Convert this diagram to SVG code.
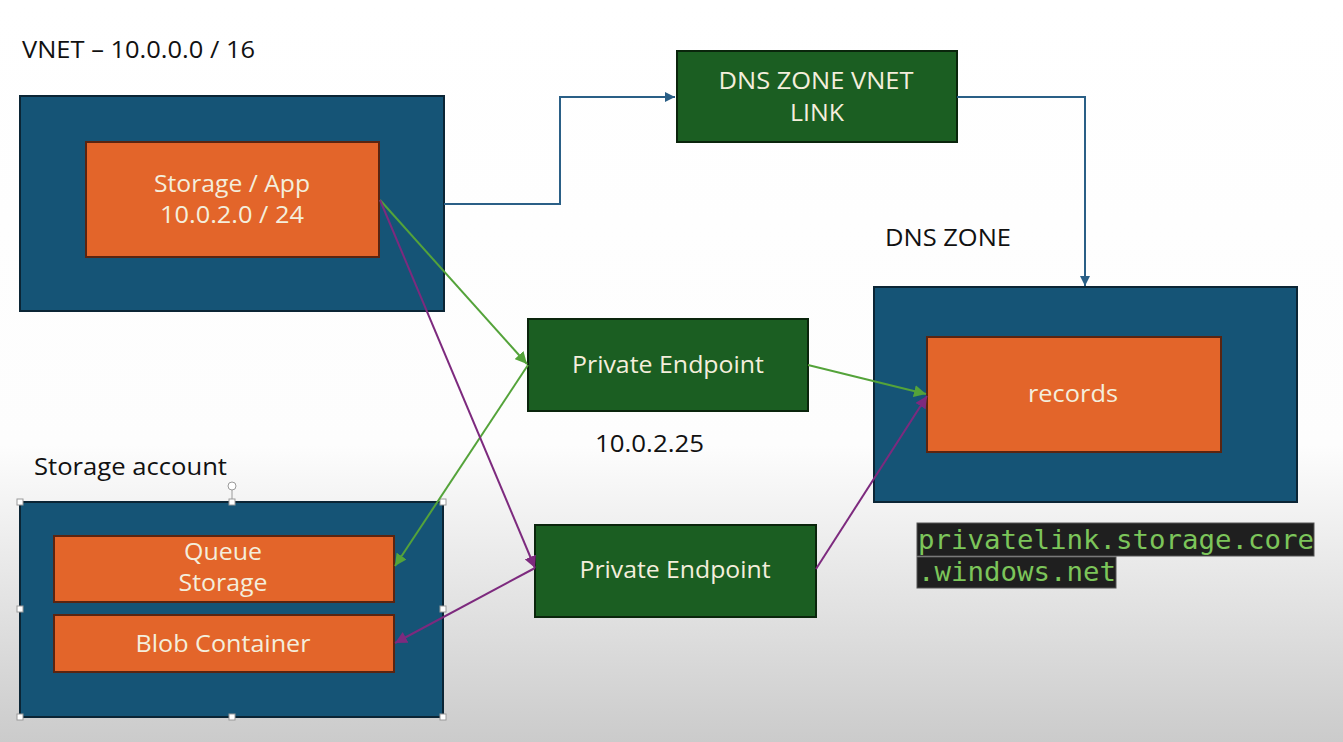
<svg xmlns="http://www.w3.org/2000/svg" width="1343" height="742" viewBox="0 0 1343 742">
<defs>
<linearGradient id="bg" x1="0" y1="0" x2="0" y2="1">
<stop offset="0" stop-color="#ffffff"/>
<stop offset="0.6" stop-color="#fdfdfd"/>
<stop offset="1" stop-color="#cbcbcb"/>
</linearGradient>
<marker id="aBlue" markerUnits="userSpaceOnUse" markerWidth="12" markerHeight="10" refX="10" refY="5" orient="auto"><path d="M0,0 L10,5 L0,10 z" fill="#2a5f86"/></marker>
<marker id="aGreen" markerUnits="userSpaceOnUse" markerWidth="14" markerHeight="12" refX="12" refY="6" orient="auto"><path d="M0,0 L12,6 L0,12 z" fill="#54a33a"/></marker>
<marker id="aPurple" markerUnits="userSpaceOnUse" markerWidth="14" markerHeight="12" refX="12" refY="6" orient="auto"><path d="M0,0 L12,6 L0,12 z" fill="#7d2a7e"/></marker>
</defs>
<style>
.blue{fill:#155476;stroke:#0b2535;stroke-width:2}
.orange{fill:#e3652a;stroke:#5a2410;stroke-width:2}
.green{fill:#1b5e22;stroke:#0a250c;stroke-width:2}
.bt{font-family:"Open Sans","Liberation Sans",sans-serif;font-size:24px;fill:#f4eedc;text-anchor:middle}
.lbl{font-family:"Open Sans","Liberation Sans",sans-serif;font-size:24px;fill:#111111}
.cb{fill:none;stroke:#2a5f86;stroke-width:2}
.cg{fill:none;stroke:#54a33a;stroke-width:2}
.cp{fill:none;stroke:#7d2a7e;stroke-width:2}
.code{font-family:"DejaVu Sans Mono","Liberation Mono",monospace;font-size:27px;fill:#7cc55a}
.h{fill:#ffffff;stroke:#9a9a9a;stroke-width:1}
</style>
<rect x="0" y="0" width="1343" height="742" fill="url(#bg)"/>

<g id="labels">
<text class="lbl" x="22" y="58" textLength="233" lengthAdjust="spacingAndGlyphs">VNET – 10.0.0.0 / 16</text>
<text class="lbl" x="885" y="246" textLength="126" lengthAdjust="spacingAndGlyphs">DNS ZONE</text>
<text class="lbl" x="595" y="452" textLength="109" lengthAdjust="spacingAndGlyphs">10.0.2.25</text>
<text class="lbl" x="34" y="475" textLength="193" lengthAdjust="spacingAndGlyphs">Storage account</text>
</g>

<g id="vnet">
<rect class="blue" x="20" y="96" width="424" height="215"/>
</g>
<g id="storage-app">
<rect class="orange" x="86" y="142" width="293" height="115"/>
<text class="bt" x="232" y="192" textLength="156" lengthAdjust="spacingAndGlyphs">Storage / App</text>
<text class="bt" x="232" y="223" textLength="144" lengthAdjust="spacingAndGlyphs">10.0.2.0 / 24</text>
</g>

<g id="dns-zone-vnet-link">
<rect class="green" x="677" y="51" width="280" height="91"/>
<text class="bt" x="816" y="89" textLength="195" lengthAdjust="spacingAndGlyphs">DNS ZONE VNET</text>
<text class="bt" x="817" y="121" textLength="54" lengthAdjust="spacingAndGlyphs">LINK</text>
</g>

<g id="dns-zone">
<rect class="blue" x="874" y="287" width="423" height="215"/>
</g>
<g id="records">
<rect class="orange" x="927" y="337" width="294" height="115"/>
<text class="bt" x="1073" y="402" textLength="90" lengthAdjust="spacingAndGlyphs">records</text>
</g>

<g id="private-endpoint-1">
<rect class="green" x="528" y="319" width="280" height="92"/>
<text class="bt" x="668" y="373" textLength="192" lengthAdjust="spacingAndGlyphs">Private Endpoint</text>
</g>

<g id="private-endpoint-2">
<rect class="green" x="535" y="525" width="281" height="92"/>
<text class="bt" x="675" y="578" textLength="191" lengthAdjust="spacingAndGlyphs">Private Endpoint</text>
</g>

<g id="storage-account">
<rect class="blue" x="20" y="502" width="423" height="215"/>
</g>
<g id="queue-storage">
<rect class="orange" x="54" y="536" width="340" height="66"/>
<text class="bt" x="223" y="560" textLength="78" lengthAdjust="spacingAndGlyphs">Queue</text>
<text class="bt" x="223" y="591" textLength="89" lengthAdjust="spacingAndGlyphs">Storage</text>
</g>
<g id="blob-container">
<rect class="orange" x="54" y="615" width="340" height="57" fill="#d95b24"/>
<text class="bt" x="223" y="652" textLength="175" lengthAdjust="spacingAndGlyphs">Blob Container</text>
</g>

<g id="selection-handles">
<line x1="232" y1="490" x2="232" y2="502" stroke="#9a9a9a" stroke-width="1"/>
<circle class="h" cx="232" cy="486" r="4"/>
<rect class="h" x="17" y="499" width="6" height="6"/>
<rect class="h" x="229" y="499" width="6" height="6"/>
<rect class="h" x="440" y="499" width="6" height="6"/>
<rect class="h" x="17" y="606" width="6" height="6"/>
<rect class="h" x="440" y="606" width="6" height="6"/>
<rect class="h" x="17" y="714" width="6" height="6"/>
<rect class="h" x="229" y="714" width="6" height="6"/>
<rect class="h" x="440" y="714" width="6" height="6"/>
</g>

<g id="privatelink-domain">
<rect x="917" y="523" width="397" height="33" fill="#1f1f1f" stroke="#555555" stroke-width="1"/>
<rect x="917" y="557" width="199" height="31" fill="#1f1f1f" stroke="#555555" stroke-width="1"/>
<text class="code" x="918" y="549" textLength="396" lengthAdjust="spacingAndGlyphs">privatelink.storage.core</text>
<text class="code" x="918" y="581" textLength="198" lengthAdjust="spacingAndGlyphs">.windows.net</text>
</g>

<g id="connectors">
<path class="cb" d="M444,204 H560 V97 H675" marker-end="url(#aBlue)"/>
<path class="cb" d="M957,97 H1085 V286" marker-end="url(#aBlue)"/>
<path class="cg" d="M380,200 L527,364" marker-end="url(#aGreen)"/>
<path class="cg" d="M528,365 L395,566" marker-end="url(#aGreen)"/>
<path class="cg" d="M808,365 L926,394" marker-end="url(#aGreen)"/>
<path class="cp" d="M380,200 L535,568" marker-end="url(#aPurple)"/>
<path class="cp" d="M535,568 L395,643" marker-end="url(#aPurple)"/>
<path class="cp" d="M816,569 L927,396" marker-end="url(#aPurple)"/>
</g>
</svg>
